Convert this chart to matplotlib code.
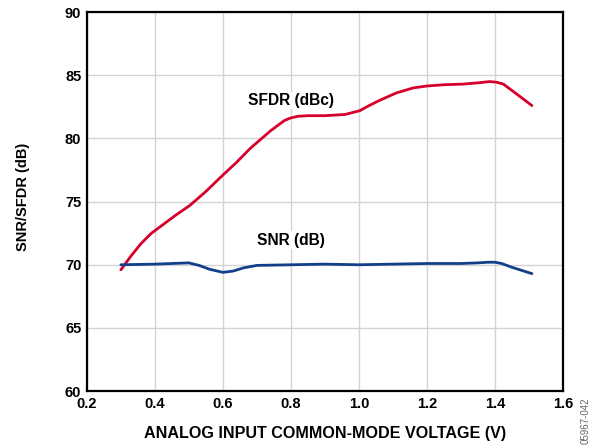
import matplotlib
matplotlib.use("Agg")
import matplotlib.pyplot as plt

plt.rcParams['font.family'] = ['Liberation Sans', 'DejaVu Sans']

sfdr_x = [0.30, 0.33, 0.36, 0.39, 0.415, 0.46, 0.503, 0.55, 0.60, 0.64, 0.68, 0.74, 0.78, 0.797, 0.82, 0.85, 0.90, 0.96, 1.003, 1.03, 1.06, 1.11, 1.16, 1.20, 1.25, 1.306, 1.35, 1.385, 1.405, 1.425, 1.46, 1.509]
sfdr_y = [69.6, 70.7, 71.7, 72.5, 73.0, 73.9, 74.7, 75.8, 77.1, 78.1, 79.2, 80.6, 81.4, 81.6, 81.75, 81.8, 81.8, 81.9, 82.2, 82.6, 83.0, 83.6, 84.0, 84.15, 84.25, 84.3, 84.4, 84.5, 84.45, 84.3, 83.6, 82.6]

snr_x = [0.30, 0.40, 0.45, 0.50, 0.53, 0.56, 0.60, 0.63, 0.66, 0.70, 0.80, 0.90, 1.00, 1.10, 1.20, 1.30, 1.35, 1.38, 1.40, 1.42, 1.45, 1.509]
snr_y = [70.0, 70.05, 70.1, 70.15, 69.95, 69.65, 69.4, 69.5, 69.75, 69.95, 70.0, 70.05, 70.0, 70.05, 70.1, 70.1, 70.15, 70.2, 70.2, 70.1, 69.8, 69.3]

x_ticks = [0.2, 0.4, 0.6, 0.8, 1.0, 1.2, 1.4, 1.6]
y_ticks = [60, 65, 70, 75, 80, 85, 90]

fig = plt.figure(figsize=(5.95, 4.48), dpi=100)
ax = fig.add_axes([0.146, 0.127, 0.8, 0.846])

ax.plot(sfdr_x, sfdr_y, color='#d7002b', lw=2.0, solid_capstyle='round', solid_joinstyle='round', zorder=3)
ax.plot(snr_x, snr_y, color='#133f8a', lw=2.0, solid_capstyle='round', solid_joinstyle='round', zorder=3)

ax.set_xlim(0.2, 1.6)
ax.set_ylim(60, 90)
ax.set_xticks(x_ticks)
ax.set_yticks(y_ticks)
ax.set_xticklabels([f"{v:.1f}" for v in x_ticks], fontweight='bold', fontsize=10.5)
ax.set_yticklabels([str(v) for v in y_ticks], fontweight='bold', fontsize=10.5)
ax.tick_params(length=0, pad=4)
ax.grid(True, color='#d3d3d3', lw=1.0, zorder=0)
ax.set_axisbelow(True)
for s in ax.spines.values():
    s.set_linewidth(1.6)
    s.set_color('black')

ax.text(0.80, 83.0, 'SFDR (dBc)', ha='center', va='center', fontsize=11.2, fontweight='bold',
        bbox=dict(facecolor='white', edgecolor='none', pad=1), zorder=2)
ax.text(0.80, 71.95, 'SNR (dB)', ha='center', va='center', fontsize=11.2, fontweight='bold',
        bbox=dict(facecolor='white', edgecolor='none', pad=1), zorder=2)

ax.set_xlabel('ANALOG INPUT COMMON-MODE VOLTAGE (V)', fontweight='bold', fontsize=11.6, va='center')
ax.xaxis.set_label_coords(0.5, -0.111)
ax.set_ylabel('SNR/SFDR (dB)', fontweight='bold', fontsize=10.5, va='center')
ax.yaxis.set_label_coords(-0.134, 0.512)

fig.text(0.984, 0.008, '05967-042', rotation=90, fontsize=7, color='#666666', ha='center', va='bottom')

fig.savefig('out.png', dpi=100)
